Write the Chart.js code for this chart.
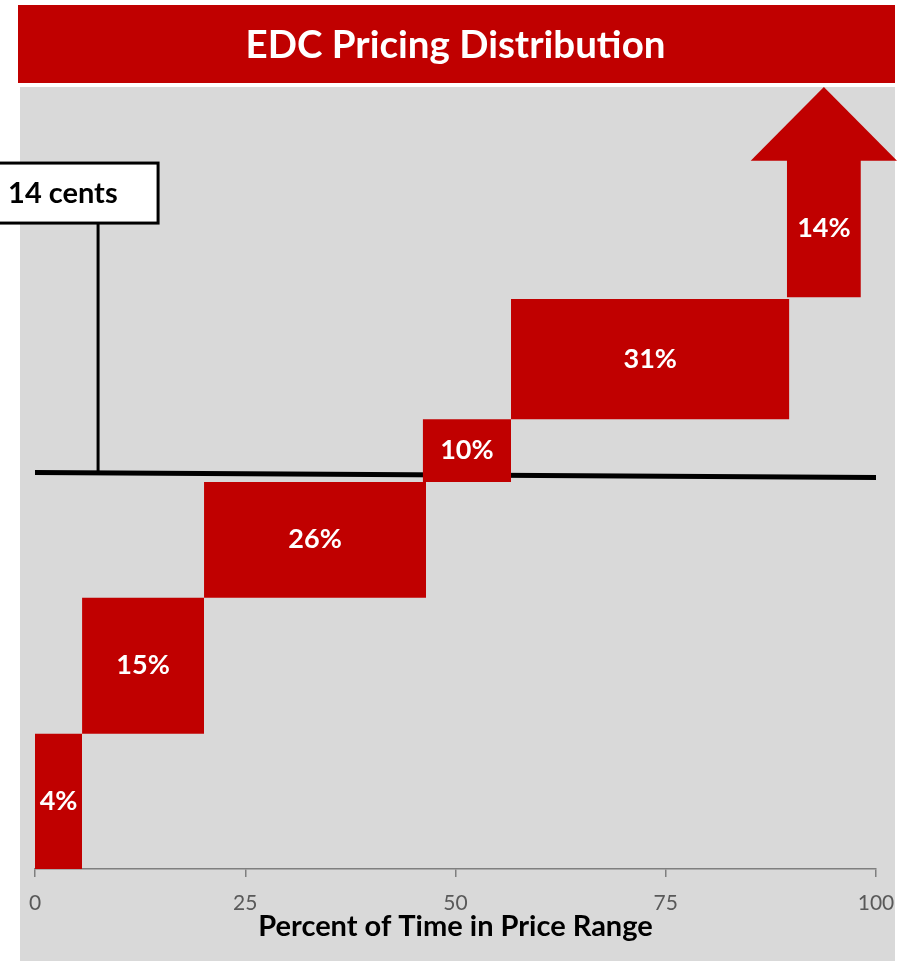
<!DOCTYPE html>
<html>
<head>
<meta charset="utf-8">
<script src="https://cdn.jsdelivr.net/npm/chart.js@4/dist/chart.umd.min.js"></script>
<style>
  body { margin: 0; background: #fff; }
  #wrap { width: 900px; height: 961px; position: relative; }
</style>
</head>
<body>
<div id="wrap"><canvas id="edcChart"></canvas></div>
<script>
(function () {
    'use strict'

    // share of time spent in each price band
    const shares = ['4%', '15%', '26%', '10%', '31%', '14%']
    // x extent of each band (percent of time, cumulative)
    const timeStart = [0, 5.6, 20.1, 46.1, 56.6, 89.4]
    const timeEnd = [5.6, 20.1, 46.5, 56.6, 89.7, 98.2]
    // y extent of each band (price level, unlabelled scale)
    const priceLow = [0, 17.3, 34.7, 49.5, 57.5, 73.1]
    const priceHigh = [17.3, 34.7, 49.5, 57.5, 72.9, 90.7]

    // arrow head on top of the last band
    const headX = [85.1, 93.8, 102.5]
    const headY = [90.7, 100, 90.7]

    // the 14 cents reference line
    const refX = [0, 100]
    const refY = [50.7, 50.06]
    const calloutX = [7.5, 7.5]
    const calloutY = [50.7, 82.6]
    const calloutText = '14 cents'

    const xTicks = [0, 25, 50, 75, 100]

    const red = '#C00000'
    const fontFamily = 'Lato, "Open Sans", sans-serif'

    const datasets = []

    shares.forEach((s, i) => {
        datasets.push({
            label: s,
            data: [{x: timeStart[i], y: priceHigh[i]}, {x: timeEnd[i], y: priceHigh[i]}],
            fill: {value: priceLow[i]},
            backgroundColor: red,
            borderColor: 'transparent',
            borderWidth: 0,
            pointRadius: 0,
            clip: false
        })
    })

    datasets.push({
        label: 'ref',
        data: refX.map((x, i) => ({x: x, y: refY[i]})),
        fill: false,
        borderColor: '#000',
        borderWidth: 5,
        pointRadius: 0,
        clip: false
    })

    datasets.push({
        label: 'callout',
        data: calloutX.map((x, i) => ({x: x, y: calloutY[i]})),
        fill: false,
        borderColor: '#000',
        borderWidth: 3,
        pointRadius: 0,
        clip: false
    })

    // gray plot background and red title banner
    const backdrop = {
        id: 'backdrop',
        beforeDraw(chart) {
            const c = chart.ctx
            const area = chart.chartArea
            const tb = chart.titleBlock
            c.save()
            c.fillStyle = '#D9D9D9'
            c.fillRect(20, area.top, 875, chart.height - area.top)
            c.fillStyle = red
            c.fillRect(18, tb.top, 877, tb.height - 4)
            c.restore()
        }
    }

    // arrow head (spills past the plot edge, so the filler can't draw it),
    // percentage labels and the callout box
    const labels = {
        id: 'labels',
        afterDatasetsDraw(chart) {
            const c = chart.ctx
            const xs = chart.scales.x
            const ys = chart.scales.y
            c.save()

            c.fillStyle = red
            c.beginPath()
            headX.forEach((x, i) => {
                const px = xs.getPixelForValue(x)
                const py = ys.getPixelForValue(headY[i])
                if (i === 0) c.moveTo(px, py + 1)
                else c.lineTo(px, i === headX.length - 1 ? py + 1 : py)
            })
            c.closePath()
            c.fill()

            c.fillStyle = '#fff'
            c.font = 'bold 27px ' + fontFamily
            c.textAlign = 'center'
            c.textBaseline = 'middle'
            shares.forEach((s, i) => {
                const cx = xs.getPixelForValue((timeStart[i] + timeEnd[i]) / 2)
                const cy = ys.getPixelForValue((priceLow[i] + priceHigh[i]) / 2)
                c.fillText(s, cx, cy)
            })

            const px = xs.getPixelForValue(calloutX[1])
            const py = ys.getPixelForValue(calloutY[1])
            const right = px + 60
            const left = right - 170
            const h = 60
            c.fillStyle = '#fff'
            c.fillRect(left, py - h, right - left, h)
            c.strokeStyle = '#000'
            c.lineWidth = 3
            c.strokeRect(left, py - h, right - left, h)
            c.fillStyle = '#000'
            c.textAlign = 'left'
            c.font = 'bold 29px ' + fontFamily
            c.fillText(calloutText, right - 150, py - h / 2 + 1)
            c.restore()
        }
    }

    const config = {
        type: 'line',
        data: {datasets: datasets},
        options: {
            responsive: true,
            maintainAspectRatio: false,
            animation: false,
            events: [],
            layout: {
                padding: {left: 35, right: 24, top: 5, bottom: 17}
            },
            elements: {line: {tension: 0}},
            plugins: {
                legend: {display: false},
                tooltip: {enabled: false},
                title: {
                    display: true,
                    text: 'EDC Pricing Distribution',
                    color: '#fff',
                    font: {family: fontFamily, size: 38.5, weight: 'bold', lineHeight: 1.2},
                    padding: {top: 17, bottom: 18.8}
                }
            },
            scales: {
                x: {
                    type: 'linear',
                    min: 0,
                    max: 100,
                    afterBuildTicks: (axis) => {
                        axis.ticks = xTicks.map(v => ({value: v}))
                    },
                    afterFit: (axis) => {
                        axis.paddingLeft = 0
                        axis.paddingRight = 0
                    },
                    grid: {
                        drawOnChartArea: false,
                        drawTicks: true,
                        tickLength: 8,
                        color: '#7F7F7F',
                        lineWidth: 1.5
                    },
                    border: {color: '#7F7F7F', width: 1.5},
                    ticks: {
                        color: '#595959',
                        font: {family: fontFamily, size: 21},
                        padding: 14,
                        maxRotation: 0
                    },
                    title: {
                        display: true,
                        text: 'Percent of Time in Price Range',
                        color: '#000',
                        font: {family: fontFamily, size: 29, weight: 'bold', lineHeight: 1.2},
                        padding: {top: -21, bottom: 0}
                    }
                },
                y: {
                    type: 'linear',
                    min: 0,
                    max: 100,
                    display: false
                }
            }
        },
        plugins: [backdrop, labels]
    }

    const myChart = new Chart(document.getElementById('edcChart'), config)
})()
</script>
</body>
</html>
